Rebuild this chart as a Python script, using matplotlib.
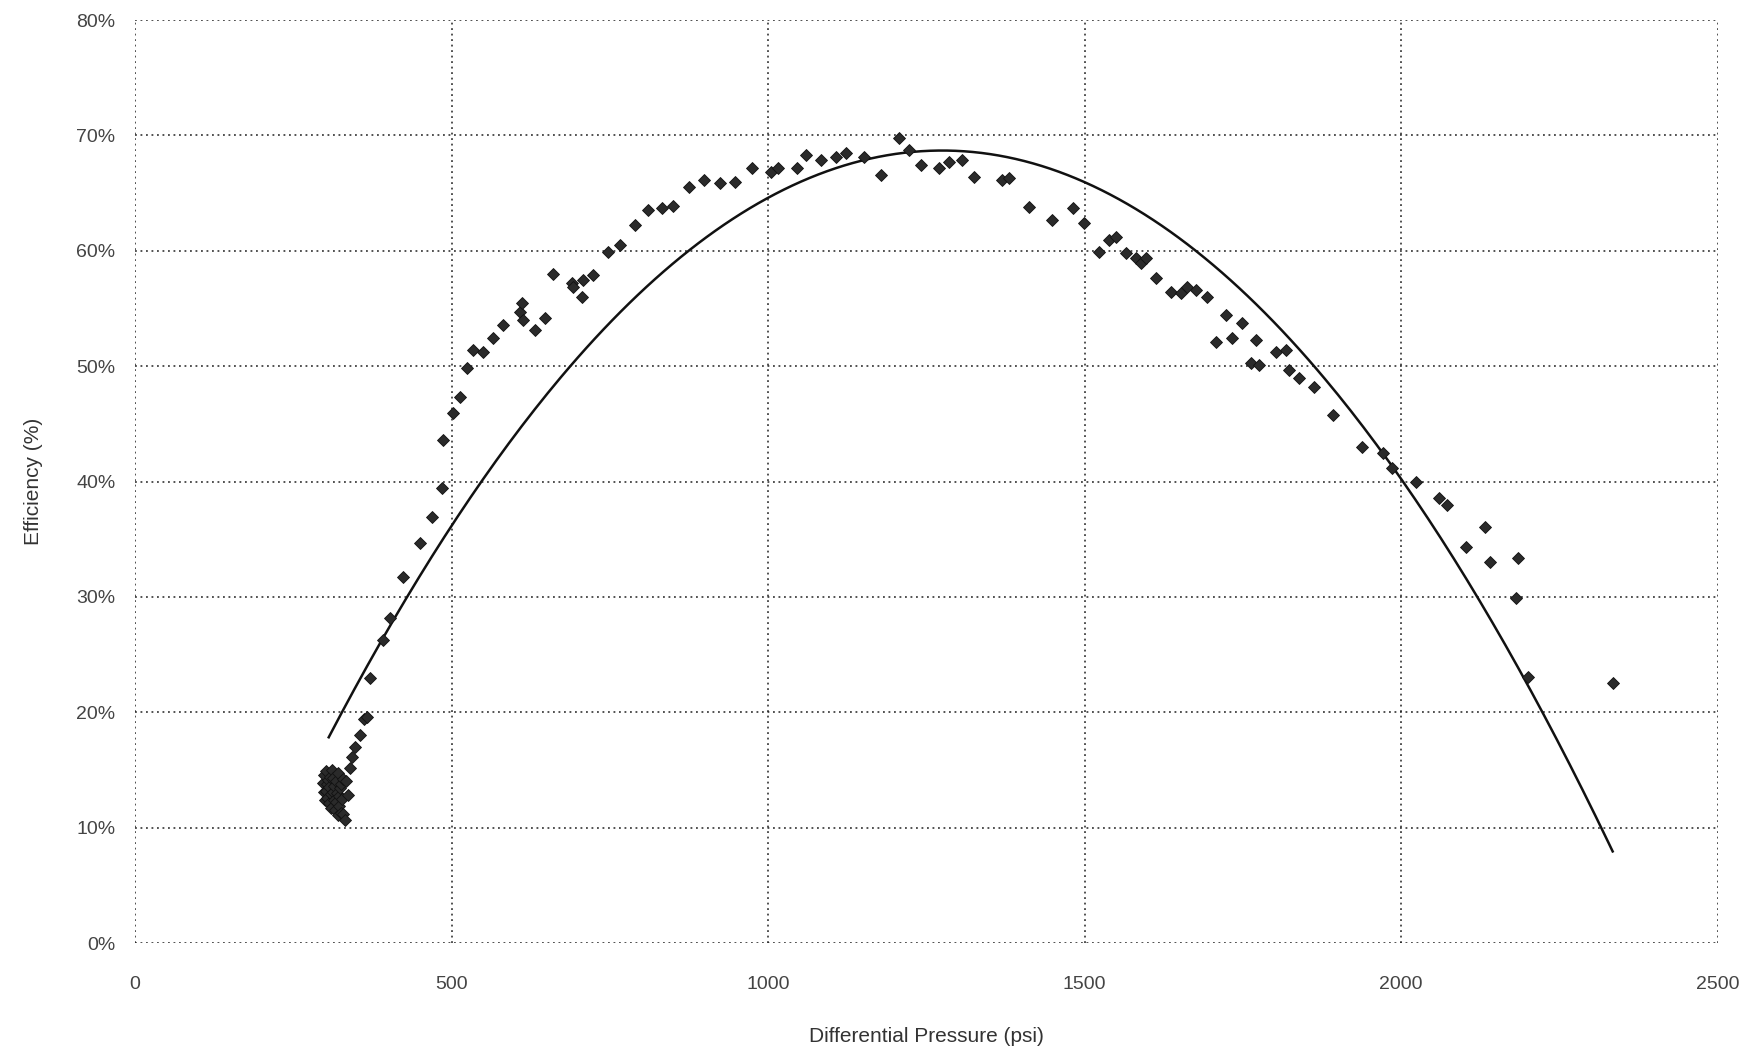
import numpy as np
import matplotlib
matplotlib.use("Agg")
import matplotlib.pyplot as plt
from matplotlib.ticker import FuncFormatter

# Measured pump efficiency versus differential pressure
pressure_psi = [
    297, 298, 299, 300, 301, 302, 303, 304, 305, 306, 307, 308, 309, 310,
    311, 312, 313, 314, 315, 316, 317, 318, 319, 320, 321, 322, 323, 324,
    325, 326, 327, 328, 329, 331, 334, 337, 340, 343, 348, 355, 361, 366,
    371, 392, 403, 424, 450, 469, 485, 487, 502, 513, 524, 534, 550, 566,
    581, 608, 611, 613, 632, 648, 660, 691, 692, 706, 708, 723, 747, 766,
    790, 810, 832, 849, 875, 899, 924, 947, 975, 1005, 1015, 1045, 1060,
    1084, 1108, 1123, 1152, 1179, 1207, 1222, 1242, 1270, 1286, 1307, 1325,
    1370, 1380, 1412, 1449, 1481, 1499, 1523, 1538, 1549, 1565, 1581, 1589,
    1597, 1612, 1636, 1652, 1662, 1676, 1693, 1707, 1723, 1733, 1749, 1762,
    1770, 1776, 1802, 1818, 1823, 1838, 1862, 1893, 1938, 1972, 1985, 2024,
    2059, 2072, 2103, 2133, 2141, 2182, 2185, 2201, 2335,
]
efficiency_pct = [
    13.9, 13.1, 14.6, 12.4, 13.2, 14.9, 12.6, 13.8, 14.1, 12.1, 13.5, 14.4,
    12.9, 11.7, 15.0, 13.1, 14.3, 12.4, 13.6, 11.5, 12.2, 14.0, 13.0, 11.1,
    14.7, 12.7, 11.9, 13.4, 13.8, 11.3, 12.5, 14.2, 11.2, 10.7, 14.0, 12.8,
    15.2, 16.1, 17.0, 18.0, 19.4, 19.6,
    23.0, 26.3, 28.2, 31.7, 34.7, 36.9, 39.4, 43.6, 45.9, 47.3, 49.8, 51.4,
    51.2, 52.4, 53.6, 54.7, 55.5, 54.0, 53.1, 54.2, 58.0, 57.2, 56.9, 56.0,
    57.5, 57.9, 59.9, 60.5, 62.2, 63.5, 63.7, 63.9, 65.5, 66.1, 65.9, 66.0,
    67.2, 66.8, 67.2, 67.2, 68.3, 67.9, 68.1, 68.5, 68.1, 66.6, 69.8, 68.7,
    67.4, 67.2, 67.7, 67.9, 66.4, 66.1, 66.3, 63.8, 62.7, 63.7, 62.4, 59.9,
    60.9, 61.2, 59.8, 59.4, 58.9, 59.4, 57.6, 56.4, 56.3, 56.9, 56.6, 56.0,
    52.1, 54.4, 52.4, 53.7, 50.3, 52.3, 50.1, 51.2, 51.4, 49.7, 49.0, 48.2,
    45.8, 43.0, 42.5, 41.2, 40.0, 38.6, 38.0, 34.3, 36.1, 33.0, 29.9, 33.4,
    23.1, 22.5,
]

# Polynomial trendline readings (efficiency % at given pressure)
trend_psi = [306, 400, 500, 600, 700, 800, 900, 1000, 1100, 1200, 1300,
             1400, 1500, 1600, 1700, 1800, 1900, 2000, 2100, 2200, 2334]
trend_pct = [17.8, 27.2, 36.2, 44.0, 50.8, 56.5, 61.1, 64.6, 67.0, 68.4,
             68.7, 67.8, 65.9, 63.0, 58.9, 53.7, 47.5, 40.2, 31.8, 22.6, 7.8]

x_ticks = [0, 500, 1000, 1500, 2000, 2500]
y_ticks = [0, 10, 20, 30, 40, 50, 60, 70, 80]

x = np.array(pressure_psi, dtype=float)
y = np.array(efficiency_pct, dtype=float)

# Smooth second-order curve through the trendline readings
coeffs = np.polyfit(trend_psi, trend_pct, 2)
x_fit = np.linspace(min(trend_psi), max(trend_psi), 300)
y_fit = np.polyval(coeffs, x_fit)

plt.rcParams["font.family"] = ["Liberation Sans", "DejaVu Sans"]

fig = plt.figure(figsize=(17.6, 10.56), dpi=100)
ax = fig.add_axes([0.0767, 0.107, 0.8993, 0.874])

ax.plot(x_fit, y_fit, color="#111111", linewidth=1.8, zorder=3)
ax.plot(x, y, linestyle="none", marker="D", markersize=6.5,
        markerfacecolor="#2a2a2a", markeredgecolor="#111111",
        markeredgewidth=0.6, zorder=4)

ax.set_xlim(0, 2500)
ax.set_ylim(0, 80)
ax.set_xticks(x_ticks)
ax.set_yticks(y_ticks)
ax.yaxis.set_major_formatter(FuncFormatter(lambda v, _: f"{v:.0f}%"))

ax.grid(True, color="#222222", linestyle=(0, (1.2, 2.4)), linewidth=1.1)
for side in ("top", "right", "bottom", "left"):
    ax.spines[side].set_visible(False)
ax.tick_params(length=0, labelsize=14, colors="#444444")
ax.tick_params(axis="x", pad=24)
ax.tick_params(axis="y", pad=14)

ax.set_xlabel("Differential Pressure (psi)", fontsize=15, color="#333333",
              labelpad=24)
ax.set_ylabel("Efficiency (%)", fontsize=15, color="#333333", labelpad=24)

fig.savefig("out.png", dpi=100, facecolor="white")
